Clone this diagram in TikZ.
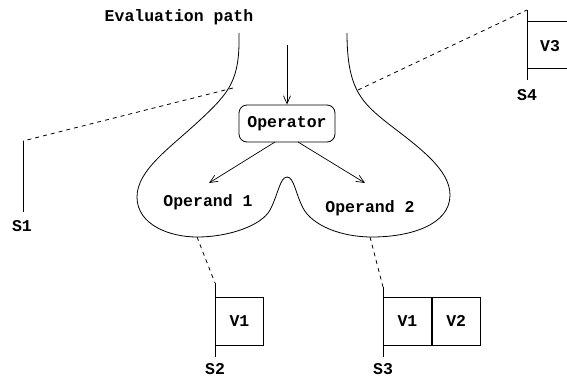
\documentclass[tikz,border=0pt]{standalone}
\usepackage{fontspec}
\setmonofont{Liberation Mono}
\usetikzlibrary{arrows.meta}
\begin{document}
\begin{tikzpicture}[x=1pt,y=-1pt,
  lbl/.style={font=\fontsize{16.5}{18}\selectfont\ttfamily\bfseries, inner sep=0pt},
  ln/.style={line width=0.8pt},
  dsh/.style={line width=0.8pt, dash pattern=on 4pt off 4pt},
  arr/.style={line width=0.7pt, -{Straight Barb[length=8pt,width=7pt]}},
  opbox/.style={draw, line width=0.8pt, rounded corners=8pt, minimum width=96pt, minimum height=37pt, inner sep=0pt},
  vbox/.style={draw, line width=0.8pt, minimum width=48pt, minimum height=48pt, inner sep=0pt}]
\useasboundingbox (0,0) rectangle (567,378);
\clip (0,0) rectangle (567,378);
% funnel outline
\draw[ln] (239,33) .. controls (240,80) and (230,92) .. (200,120)
  .. controls (170,148) and (137,170) .. (137,197)
  .. controls (137,225) and (170,237) .. (197,237)
  .. controls (230,237) and (262,225) .. (270,210)
  .. controls (278,195) and (280,177) .. (287,177)
  .. controls (294,177) and (296,195) .. (303,208)
  .. controls (312,225) and (340,237) .. (372,237)
  .. controls (410,237) and (450,225) .. (450,195)
  .. controls (450,170) and (420,148) .. (390,125)
  .. controls (362,103) and (347,90) .. (347,33);
% texts
\node[lbl] (eval) at (179,17) {Evaluation path};
\node[lbl, opbox] (op) at (287,123.5) {Operator};
\node[lbl] (op1) at (208,202) {Operand 1};
\node[lbl] (op2) at (370,208) {Operand 2};
\coordinate (ain) at (287,45);
\coordinate (a1) at (209,183);
\coordinate (a2) at (365,183);
\coordinate (o1) at (275,142);
\coordinate (o2) at (298,142);
\draw[arr] (ain) -- (op.north);
\draw[arr] (o1) -- (a1);
\draw[arr] (o2) -- (a2);
% S1
\coordinate (l1) at (233,88);
\coordinate (s1top) at (23,141);
\coordinate (s1bot) at (23,212);
\draw[dsh] (l1) -- (s1top);
\draw[ln] (s1top) -- (s1bot);
\node[lbl] (s1) at (22,226) {S1};
% S4
\coordinate (r1) at (358,90);
\coordinate (s4top) at (527,10);
\coordinate (s4bot) at (527,80);
\draw[dsh] (r1) -- (s4top);
\draw[ln] (s4top) -- (s4bot);
\node[vbox, anchor=west, minimum height=47pt] (v3) at (527,44.5) {};
\node[lbl] (v3t) at (550,46) {V3};
\node[lbl] (s4) at (527,95) {S4};
% S2
\coordinate (b1) at (197,237);
\coordinate (s2top) at (215,283);
\coordinate (s2bot) at (215,357);
\draw[dsh] (b1) -- (s2top);
\draw[ln] (s2top) -- (s2bot);
\node[lbl, vbox, anchor=west] (v1a) at (215,321) {V1};
\node[lbl] (s2) at (215,369) {S2};
% S3
\coordinate (b2) at (370,237);
\coordinate (s3top) at (383,287);
\coordinate (s3bot) at (383,357);
\draw[dsh] (b2) -- (s3top);
\draw[ln] (s3top) -- (s3bot);
\node[lbl, vbox, anchor=west] (v1b) at (383,321) {V1};
\node[lbl, vbox, anchor=west] (v2) at (v1b.east) {V2};
\node[lbl] (s3) at (383,369) {S3};
\end{tikzpicture}
\end{document}
